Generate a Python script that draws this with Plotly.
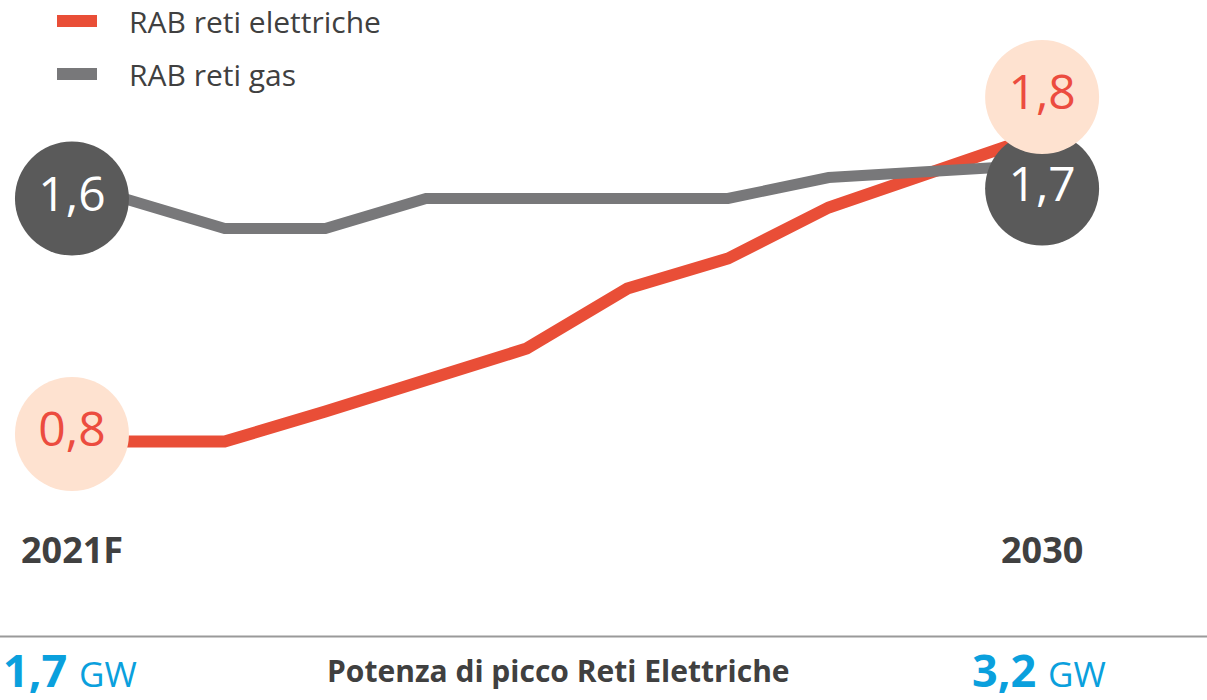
import plotly.graph_objects as go

# ---------------- data ----------------
years = [2021, 2022, 2023, 2024, 2025, 2026, 2027, 2028, 2029, 2030]
year_labels = ["2021F", "2030"]
series_names = ["RAB reti elettriche", "RAB reti gas"]
rab_elettriche = [0.80, 0.80, 0.90, 1.00, 1.11, 1.31, 1.41, 1.58, 1.69, 1.81]
rab_gas = [1.61, 1.51, 1.51, 1.61, 1.61, 1.61, 1.61, 1.68, 1.70, 1.72]
peak_power = [1.7, 3.2]
peak_unit = "GW"
peak_title = "Potenza di picco Reti Elettriche"

# ---------------- style ----------------
W, H = 1207, 700
RED = "#E94E37"
GRAY = "#78787A"
DARK = "#5A5A5A"
LIGHT = "#FEE2D0"
RED_TXT = "#EC4C3F"
TXT = "#404040"
BLUE = "#0AA0DD"
FONT = "Open Sans"

idx = list(range(len(years)))
start_x = -0.517   # label circles left of first point
end_x = 9.12       # label circles right of last point
red_off = (0.025, 0.138)
gray_off = (0.0, -0.077)


def lab(v):
    return f"{v:.1f}".replace(".", ",")


def px(x):
    return x / W


def py(y):
    return 1 - y / H


fig = go.Figure()
fig.add_trace(go.Scatter(x=idx, y=rab_elettriche, mode="lines",
                         line=dict(color=RED, width=12), name=series_names[0],
                         showlegend=False, hoverinfo="skip"))
fig.add_trace(go.Scatter(x=idx, y=rab_gas, mode="lines",
                         line=dict(color=GRAY, width=11), name=series_names[1],
                         showlegend=False, hoverinfo="skip"))

# gray label circles
fig.add_trace(go.Scatter(
    x=[start_x, end_x],
    y=[rab_gas[0] + gray_off[0], rab_gas[-1] + gray_off[1]],
    mode="markers+text", text=[lab(rab_gas[0]), lab(rab_gas[-1])],
    textposition="middle center",
    textfont=dict(family=FONT, size=48, color="white"),
    marker=dict(size=114, color=DARK, line=dict(width=0)),
    showlegend=False, hoverinfo="skip"))
# red label circles
fig.add_trace(go.Scatter(
    x=[start_x, end_x],
    y=[rab_elettriche[0] + red_off[0], rab_elettriche[-1] + red_off[1]],
    mode="markers+text", text=[lab(rab_elettriche[0]), lab(rab_elettriche[-1])],
    textposition="middle center",
    textfont=dict(family=FONT, size=48, color=RED_TXT),
    marker=dict(size=114, color=LIGHT, line=dict(width=0)),
    showlegend=False, hoverinfo="skip"))

shapes = []
annotations = []

# legend
for i, (name, col) in enumerate(zip(series_names, [RED, GRAY])):
    yc = 21 + 53 * i
    shapes.append(dict(type="rect", xref="paper", yref="paper",
                       x0=px(57), x1=px(97), y0=py(yc - 6), y1=py(yc + 6),
                       fillcolor=col, line=dict(width=0)))
    annotations.append(dict(xref="paper", yref="paper", x=px(127), y=py(yc),
                            xanchor="left", yanchor="middle", showarrow=False,
                            text=name, font=dict(family=FONT, size=30, color=TXT)))

# year labels
for xv, t in zip([start_x, end_x], year_labels):
    annotations.append(dict(xref="x", yref="paper", x=xv, y=py(549),
                            xanchor="center", yanchor="middle", showarrow=False,
                            text=f"<b>{t}</b>", font=dict(family=FONT, size=36, color=TXT)))

# separator
shapes.append(dict(type="line", xref="paper", yref="paper", x0=0, x1=1,
                   y0=py(636.5), y1=py(636.5), line=dict(color="#9A9A9A", width=2)))

# bottom row
for x0, v in zip([2, 971], peak_power):
    annotations.append(dict(xref="paper", yref="paper", x=px(x0), y=py(669),
                            xanchor="left", yanchor="middle", showarrow=False,
                            borderpad=0,
                            text=f"<b>{lab(v)}</b> <span style='font-size:35px'>{peak_unit}</span>",
                            font=dict(family=FONT, size=45, color=BLUE)))
annotations.append(dict(xref="paper", yref="paper", x=px(558), y=py(670),
                        xanchor="center", yanchor="middle", showarrow=False,
                        text=f"<b>{peak_title}</b>",
                        font=dict(family=FONT, size=30, color=TXT)))

fig.update_layout(
    width=W, height=H,
    margin=dict(l=0, r=0, t=0, b=0),
    paper_bgcolor="white", plot_bgcolor="white",
    xaxis=dict(range=[-124 / 100.67, -124 / 100.67 + W / 100.67], visible=False, fixedrange=True),
    yaxis=dict(range=[0.8 - 258.5 / 300, 0.8 + 441.5 / 300], visible=False, fixedrange=True),
    shapes=shapes, annotations=annotations,
    font=dict(family=FONT),
)

fig.write_html("out.html", config={"displayModeBar": False},
               post_script="document.body.style.margin='0';document.body.style.overflow='hidden';")
